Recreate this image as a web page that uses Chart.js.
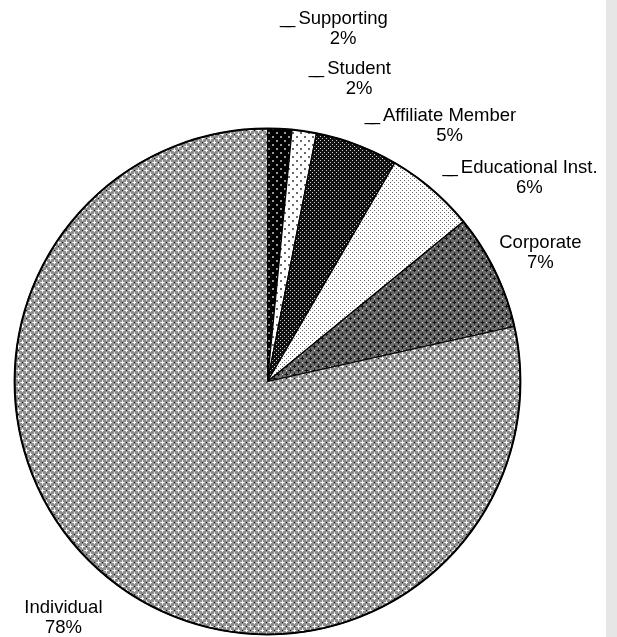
<!DOCTYPE html>
<html>
<head>
<meta charset="utf-8">
<script src="https://cdn.jsdelivr.net/npm/chart.js@4.4.1/dist/chart.umd.min.js"></script>
<style>
  html, body { margin: 0; padding: 0; background: #fff; }
  #wrap { position: relative; width: 617px; height: 637px; overflow: hidden; }
  #strip { position: absolute; left: 606px; top: 0; width: 11px; height: 637px; background: #e6e6e6; }
  canvas { position: absolute; left: 0; top: 0; }
</style>
</head>
<body>
<div id="wrap">
  <canvas id="pieChart" width="617" height="637"></canvas>
  <div id="strip"></div>
</div>
<script>
// Membership categories, clockwise from 12 o'clock
const categories = ['Supporting', 'Student', 'Affiliate Member', 'Educational Inst.', 'Corporate', 'Individual'];
const shares = [1.55, 1.55, 5.3, 5.7, 7.41, 78.49];
// small slices get a leader mark in front of the name
const hasLeader = [true, true, true, true, false, false];

// label block centres, in units of the pie radius from its centre
const labelPos = [
  [0.299, -1.394],
  [0.362, -1.197],
  [0.720, -1.010],
  [1.035, -0.805],
  [1.079, -0.508],
  [-0.807, 0.933]
];

// Build fill patterns (black & white print style)
function makePattern(size, bg, dots) {
  const c = document.createElement('canvas');
  c.width = size;
  c.height = size;
  const g = c.getContext('2d');
  g.fillStyle = bg;
  g.fillRect(0, 0, size, size);
  dots.forEach(d => {
    g.fillStyle = d[4];
    g.fillRect(d[0], d[1], d[2], d[3]);
  });
  return g.createPattern(c, 'repeat');
}

function crossPattern(bg, ring, cross, dot) {
  const dots = [];
  [[2, 2], [6, 6]].forEach(p => {
    dots.push([p[0] - 2, p[1], 5, 1, ring]);
    dots.push([p[0], p[1] - 2, 1, 5, ring]);
    dots.push([p[0] - 1, p[1], 3, 1, cross]);
    dots.push([p[0], p[1] - 1, 1, 3, cross]);
  });
  dots.push([6, 2, 1, 1, dot]);
  dots.push([2, 6, 1, 1, dot]);
  return makePattern(8, bg, dots);
}

const fills = [
  makePattern(8, '#000', [[0, 0, 2, 2, '#9a9a9a'], [4, 4, 2, 2, '#9a9a9a']]),
  makePattern(8, '#fff', [[0, 0, 2, 2, '#6a6a6a'], [4, 4, 2, 2, '#6a6a6a']]),
  makePattern(4, '#111', [[0, 0, 1, 1, '#d0d0d0'], [2, 2, 1, 1, '#d0d0d0']]),
  makePattern(4, '#fff', [[0, 0, 1, 1, '#6a6a6a'], [2, 2, 1, 1, '#6a6a6a']]),
  crossPattern('#6a6a6a', '#3a3a3a', '#111', '#f0f0f0'),
  crossPattern('#8e8e8e', '#d8d8d8', '#fff', '#111')
];

// Draw the category labels outside the pie
const labelPlugin = {
  id: 'outerLabels',
  afterDatasetsDraw(chart) {
    const ctx = chart.ctx;
    const meta = chart.getDatasetMeta(0);
    const arc = meta.data[0];
    const cx = arc.x, cy = arc.y, r = arc.outerRadius;
    const total = shares.reduce((a, b) => a + b, 0);

    // heavier outline round the whole pie
    ctx.save();
    ctx.beginPath();
    ctx.arc(cx, cy, r, 0, Math.PI * 2);
    ctx.lineWidth = 2;
    ctx.strokeStyle = '#000';
    ctx.stroke();

    ctx.font = '18.5px "Liberation Sans", Arial, sans-serif';
    ctx.fillStyle = '#000';
    ctx.textAlign = 'center';
    ctx.textBaseline = 'middle';
    categories.forEach((name, i) => {
      const x = cx + labelPos[i][0] * r;
      const y = cy + labelPos[i][1] * r;
      const pct = Math.round(shares[i] / total * 100) + '%';
      ctx.fillText(name, x, y - 10);
      ctx.fillText(pct, x, y + 10);
      if (hasLeader[i]) {
        const w = ctx.measureText(name).width;
        ctx.textAlign = 'right';
        ctx.fillText('_', x - w / 2 - 3, y - 11);
        ctx.fillText('_', x - w / 2 - 8, y - 11);
        ctx.textAlign = 'center';
      }
    });
    ctx.restore();
  }
};

const ctx = document.getElementById('pieChart').getContext('2d');
const pieChart = new Chart(ctx, {
  type: 'pie',
  data: {
    labels: categories,
    datasets: [{
      data: shares,
      backgroundColor: fills,
      borderColor: '#000',
      borderWidth: 1.2
    }]
  },
  options: {
    responsive: false,
    animation: false,
    layout: {
      padding: { left: 14, right: 96, top: 128, bottom: 2 }
    },
    plugins: {
      legend: { display: false },
      tooltip: { enabled: false }
    }
  },
  plugins: [labelPlugin]
});
</script>
</body>
</html>
